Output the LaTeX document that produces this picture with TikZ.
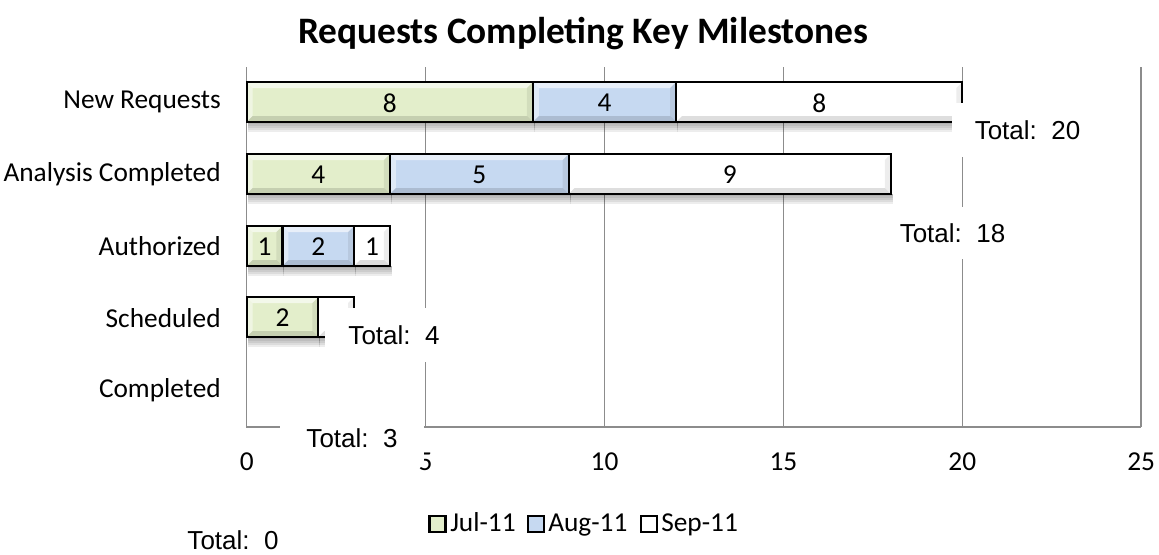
\documentclass[tikz,border=0pt]{standalone}
\usepackage{fontspec}
\setmainfont{Carlito}
\newfontfamily\arialf{Liberation Sans}
\definecolor{gridgray}{HTML}{8C8C8C}
\definecolor{jul}{HTML}{E3EECB}
\definecolor{aug}{HTML}{C6D9F1}
\definecolor{sep}{HTML}{FFFFFF}
\tikzset{
  grid line/.style={draw=gridgray, line width=1.1pt},
  bar outline/.style={draw=black, line width=1.7pt},
  cat label/.style={anchor=east, font=\fontsize{20.5}{24}\selectfont, inner sep=0pt},
  tick label/.style={font=\fontsize{20.5}{24}\selectfont, inner sep=0pt},
  val label/.style={font=\fontsize{20.5}{24}\selectfont, inner sep=0pt},
  total box/.style={fill=white, inner sep=0pt, font=\arialf\fontsize{19.5}{23}\selectfont},
  legend box/.style={draw=black, line width=1.6pt, minimum width=12pt, minimum height=12pt, inner sep=0pt},
  legend text/.style={anchor=base west, font=\fontsize{20.5}{24}\selectfont, inner sep=0pt},
}
\newcommand\barseg[6]{%
  \pgfmathsetmacro\xa{246.7+35.78*#2}%
  \pgfmathsetmacro\xb{246.7+35.78*#3}%
  \pgfmathsetmacro\yt{#4-20}%
  \pgfmathsetmacro\yb{#4+20}%
  \foreach \k in {2,4,6,8,10} {\fill[black,opacity=0.07] (\xa+1,\yb) rectangle (\xb+2,\yb+\k);}
  \fill[#5] (\xa,\yt) rectangle (\xb,\yb);
  \fill[white,opacity=0.6] (\xa,\yt) -- (\xb,\yt) -- (\xb-6,\yt+6) -- (\xa+6,\yt+6) -- cycle;
  \fill[white,opacity=0.45] (\xa,\yt) -- (\xa+6,\yt+6) -- (\xa+6,\yb-6) -- (\xa,\yb) -- cycle;
  \fill[black,opacity=0.13] (\xa,\yb) -- (\xa+6,\yb-6) -- (\xb-6,\yb-6) -- (\xb,\yb) -- cycle;
  \fill[black,opacity=0.07] (\xb,\yt) -- (\xb-6,\yt+6) -- (\xb-6,\yb-6) -- (\xb,\yb) -- cycle;
  \draw[bar outline] (\xa,\yt) rectangle (\xb,\yb);
  \node[val label] (#1) at ({(\xa+\xb)/2},#4+1) {#6};
}
\begin{document}
\begin{tikzpicture}[x=0.75pt,y=-0.75pt]
\useasboundingbox (0,0) rectangle (1159,554);
% title
\node[font=\bfseries\fontsize{28}{32}\selectfont, inner sep=0pt] (title) at (583,34) {Requests Completing Key Milestones};
% grid
\foreach \v in {5,10,15,20,25} {
  \draw[grid line] ({246.7+35.78*\v},67) -- ({246.7+35.78*\v},427);
}
\draw[grid line] (246.7,67) -- (246.7,427) -- (1141.2,427);
% tick labels
\foreach \v/\n in {0/t0,5/t5,10/t10,15/t15,20/t20,25/t25} {
  \node[tick label] (\n) at ({246.7+35.78*\v},462) {\v};
}
% category labels
\node[cat label] (cNew) at (221,102) {New Requests};
\node[cat label] (cAna) at (221,174) {Analysis Completed};
\node[cat label] (cAut) at (221,246) {Authorized};
\node[cat label] (cSch) at (221,318) {Scheduled};
\node[cat label] (cCom) at (221,390) {Completed};
% bars
\barseg{n1}{0}{8}{102}{jul}{8}
\barseg{n2}{8}{12}{102}{aug}{4}
\barseg{n3}{12}{20}{102}{sep}{8}
\barseg{a1}{0}{4}{174}{jul}{4}
\barseg{a2}{4}{9}{174}{aug}{5}
\barseg{a3}{9}{18}{174}{sep}{9}
\barseg{u1}{0}{1}{246}{jul}{1}
\barseg{u2}{1}{3}{246}{aug}{2}
\barseg{u3}{3}{4}{246}{sep}{1}
\barseg{s1}{0}{2}{317}{jul}{2}
\barseg{s2}{2}{3}{317}{sep}{}
% totals
\node[total box, minimum width=151*0.75pt, minimum height=54*0.75pt] (tot20) at (1027.5,130) {Total:~~20};
\node[total box, minimum width=151*0.75pt, minimum height=52*0.75pt] (tot18) at (952.5,233) {Total:~~18};
\node[total box, minimum width=138*0.75pt, minimum height=54*0.75pt] (tot4) at (394,335) {Total:~~4};
\node[total box, minimum width=144*0.75pt, minimum height=54*0.75pt] (tot3) at (352,438) {Total:~~3};
\node[total box, minimum width=141*0.75pt, minimum height=24*0.75pt] (tot0) at (233,540) {Total:~~0};
% legend
\node[legend box, fill=jul] (lj) at (437.5,524) {};
\node[legend text] (ljt) at (450,531) {Jul-11};
\node[legend box, fill=aug] (la) at (536,524) {};
\node[legend text] (lat) at (548,531) {Aug-11};
\node[legend box, fill=white] (ls) at (649,524) {};
\node[legend text] (lst) at (661,531) {Sep-11};
\end{tikzpicture}
\end{document}
